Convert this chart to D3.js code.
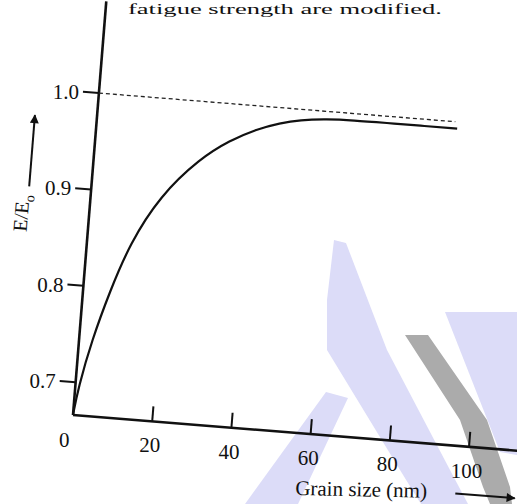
<!DOCTYPE html>
<html><head><meta charset="utf-8">
<script src="https://cdn.jsdelivr.net/npm/d3@7"></script>
<style>
body{margin:0;background:#fff}
svg{display:block}
text, tspan{font-family:"Liberation Serif","Times New Roman",serif;fill:#111}
</style>
</head><body>
<svg id="c" width="517" height="504"></svg>
<script>
// ---- data ----
const grainSize = [0, 0.75, 3.25, 6.8, 10.8, 17.4, 26.7, 33.8, 40.4, 46, 51, 57.7, 64.3, 72.9, 81.2, 90.6];
const modulusRatio = [0.666, 0.694, 0.745, 0.797, 0.847, 0.899, 0.941, 0.962, 0.976, 0.984, 0.989, 0.992, 0.993, 0.993, 0.993, 0.993];
const refGrain = [0, 90];
const refRatio = [1.0, 1.0];
const xTickValues = [20, 40, 60, 80, 100];
const xTickLabels = ["20", "40", "60", "80", "100"];
const yTickValues = [0.7, 0.8, 0.9, 1.0];
const yTickLabels = ["0.7", "0.8", "0.9", "1.0"];
const xTitle = "Grain size (nm)";
const yTitle = "E/E";
const yTitleSub = "o";
const headerText = "fatigue strength are modified.";

const svg = d3.select("#c");
const ANG = 4.6;

// scanned-page watermark (decoration, page pixels)
const wm = svg.append("g").attr("class", "watermark");
const lav = "#dcdcf8", gry = "#ababab";
[
  {c: lav, p: "M334,240 L346,243 L387,350 L450,470 L468,504 L421,504 L400,470 L327,350 L327,300 Z"},
  {c: lav, p: "M245,504 L298,504 L348,398 L326,392 Z"},
  {c: lav, p: "M445,312 L517,312 L517,455 L500,452 Z"},
  {c: gry, p: "M405,335 L428,335 L487,420 L510,487 L512,504 L490,504 L483,487 L460,420 Z"}
].forEach(s => wm.append("path").attr("d", s.p).attr("fill", s.c));

const x = d3.scaleLinear().domain([0, 100]).range([0, 397.3]);
const y = d3.scaleLinear().domain([0.666, 1.0]).range([0, -323]);

// header text (cropped page line above the figure)
svg.append("text").attr("x", 128).attr("y", 14).attr("font-size", 15)
  .attr("textLength", 314).attr("lengthAdjust", "spacingAndGlyphs").text(headerText);

const g = svg.append("g").attr("transform", `translate(73,415) rotate(${ANG})`);

const defs = svg.append("defs");
defs.append("marker").attr("id", "ah").attr("viewBox", "0 0 10 10")
  .attr("refX", 9).attr("refY", 5).attr("markerWidth", 16).attr("markerHeight", 9)
  .attr("markerUnits", "userSpaceOnUse").attr("orient", "auto")
  .append("path").attr("d", "M0,0 L10,5 L0,10 Z").attr("fill", "#111");

// axes
g.append("line").attr("x1", x(0)).attr("y1", y(0.666)).attr("x2", x(0)).attr("y2", y(1.095))
  .attr("stroke", "#111").attr("stroke-width", 2.6);
g.append("line").attr("x1", x(0)).attr("y1", y(0.666)).attr("x2", x(118)).attr("y2", y(0.666))
  .attr("stroke", "#111").attr("stroke-width", 2.6);

// y ticks
g.selectAll(".yt").data(yTickValues).join("line")
  .attr("x1", x(0) - 16).attr("x2", x(0)).attr("y1", d => y(d)).attr("y2", d => y(d))
  .attr("stroke", "#111").attr("stroke-width", 2);
g.selectAll(".yl").data(yTickValues).join("text")
  .attr("transform", d => `translate(${x(0) - 20},${y(d)}) rotate(${-ANG})`)
  .attr("text-anchor", "end").attr("dy", "0.35em").attr("font-size", 21)
  .text((d, i) => yTickLabels[i]);

// x ticks
g.selectAll(".xt").data(xTickValues).join("line")
  .attr("x1", d => x(d)).attr("x2", d => x(d)).attr("y1", y(0.666)).attr("y2", y(0.666) - 15)
  .attr("stroke", "#111").attr("stroke-width", 2);
g.selectAll(".xl").data(xTickValues).join("text")
  .attr("transform", d => `translate(${x(d)},${y(0.666) + 31}) rotate(${-ANG})`)
  .attr("text-anchor", "middle").attr("font-size", 21)
  .text((d, i) => xTickLabels[i]);
g.append("text").attr("transform", `translate(${x(0) - 6},${y(0.666) + 33}) rotate(${-ANG})`)
  .attr("text-anchor", "middle").attr("font-size", 21).text("0");

// reference dashed line
g.append("path").datum(refGrain.map((d, i) => [d, refRatio[i]]))
  .attr("d", d3.line().x(d => x(d[0])).y(d => y(d[1])))
  .attr("fill", "none").attr("stroke", "#222").attr("stroke-width", 1.3).attr("stroke-dasharray", "4,3");

// curve
g.append("path").datum(grainSize.map((d, i) => [d, modulusRatio[i]]))
  .attr("d", d3.line().x(d => x(d[0])).y(d => y(d[1])).curve(d3.curveBasis))
  .attr("fill", "none").attr("stroke", "#111").attr("stroke-width", 2.2);

// y title and arrow
const yt = g.append("text").attr("transform", `translate(${x(0) - 61},${y(0.870)}) rotate(-90)`)
  .attr("text-anchor", "middle").attr("font-size", 20).attr("fill", "#111");
yt.append("tspan").attr("fill", "#111").text(yTitle);
yt.append("tspan").attr("fill", "#111").attr("font-size", 14).attr("dy", 5).text(yTitleSub);
g.append("line").attr("x1", x(0) - 62).attr("x2", x(0) - 62).attr("y1", y(0.898)).attr("y2", y(0.972))
  .attr("stroke", "#111").attr("stroke-width", 2).attr("marker-end", "url(#ah)");

// x title and arrow
g.append("text").attr("transform", `translate(${x(73.9)},${y(0.666) + 58}) rotate(-3.4)`)
  .attr("text-anchor", "middle").attr("font-size", 21).text(xTitle);
g.append("line").attr("x1", x(97.5)).attr("x2", x(112.5)).attr("y1", y(0.666) + 47.5).attr("y2", y(0.666) + 47.5)
  .attr("stroke", "#111").attr("stroke-width", 2).attr("marker-end", "url(#ah)");
</script>
</body></html>
